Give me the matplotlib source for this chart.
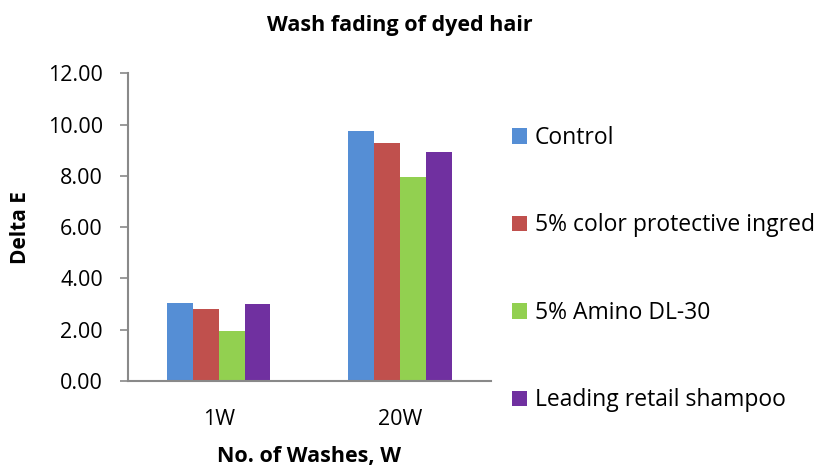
import matplotlib
matplotlib.use("Agg")
import matplotlib.pyplot as plt
import numpy as np
from matplotlib.patches import Patch

plt.rcParams['font.family'] = ['Open Sans', 'DejaVu Sans']

categories = ["1W", "20W"]
series_names = ["Control", "5% color protective ingred", "5% Amino DL-30", "Leading retail shampoo"]
control = [3.06, 9.74]
color_protective = [2.81, 9.30]
amino = [1.94, 7.97]
retail = [3.00, 8.93]
colors = ["#558ed5", "#c0504d", "#92d050", "#7030a0"]

fig = plt.figure(figsize=(8.2, 4.66), dpi=100)
ax = fig.add_axes([128/820, 1-381/466, (490.7-128)/820, (381-73.3)/466])

x = np.arange(len(categories))
n = 4
group = 0.57
w = group / n
vals = [control, color_protective, amino, retail]
for i, (v, c) in enumerate(zip(vals, colors)):
    ax.bar(x - group/2 + w*(i+0.5), v, width=w, color=c, edgecolor='none')

ax.set_xlim(-0.5, 1.5)
ax.set_ylim(0, 12)
ticks = np.arange(0, 12.01, 2)
ax.set_yticks(ticks)
ax.set_yticklabels([f"{t:.2f}" for t in ticks], fontsize=15.5)
ax.set_xticks(x)
ax.set_xticklabels(categories, fontsize=15.5)
ax.tick_params(axis='x', length=0, pad=20)
ax.tick_params(axis='y', length=6, width=1.2, color='#898989', pad=12)
for s in ['top', 'right']:
    ax.spines[s].set_visible(False)
for s in ['left', 'bottom']:
    ax.spines[s].set_color('#898989')
    ax.spines[s].set_linewidth(1.5)

ax.set_ylabel("Delta E", fontsize=15, fontweight='bold', labelpad=12)
ax.set_xlabel("No. of Washes, W", fontsize=15.5, fontweight='bold', labelpad=12)
fig.text(400/820, 1-25/466, "Wash fading of dyed hair", ha='center', va='center',
         fontsize=15.5, fontweight='bold')

handles = [Patch(facecolor=c, edgecolor='none') for c in colors]
fig.legend(handles, series_names, loc='upper left', bbox_to_anchor=(512/820, 1-126/466),
           frameon=False, fontsize=16.5, handlelength=0.65, handleheight=0.65,
           handletextpad=0.35, labelspacing=2.77, borderaxespad=0, borderpad=0)

fig.savefig("out.png", dpi=100)
